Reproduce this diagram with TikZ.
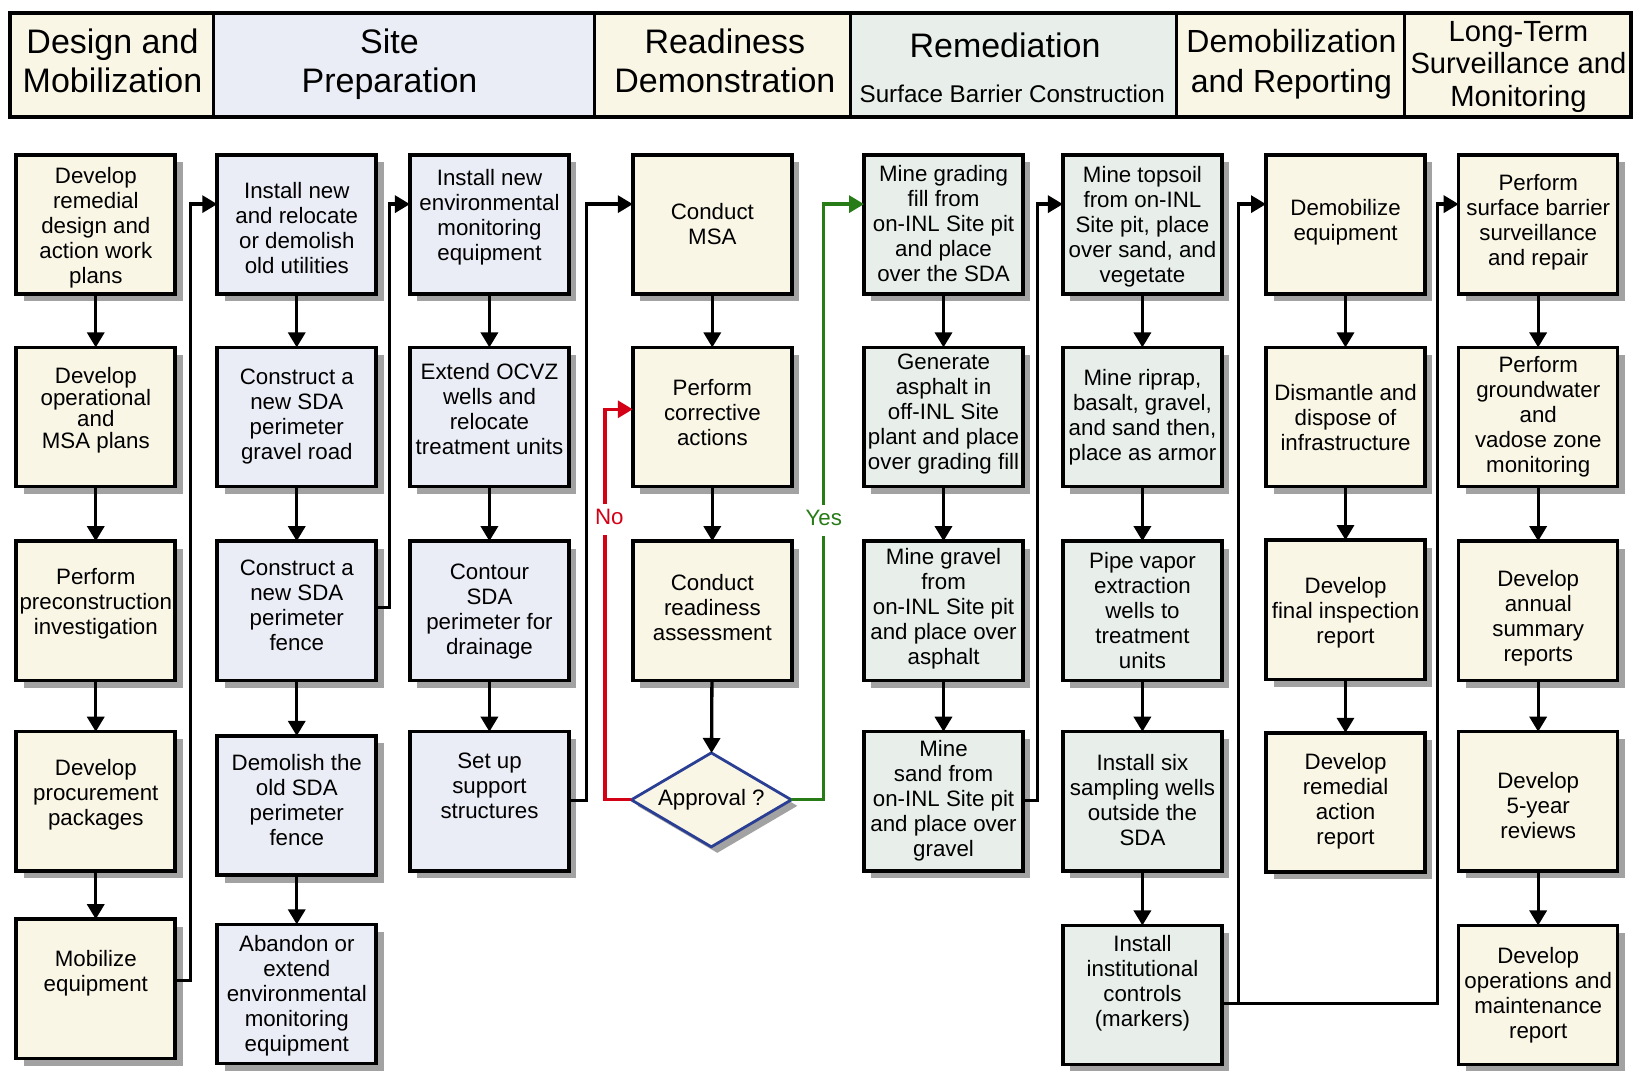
\documentclass[tikz,border=0pt]{standalone}
\usepackage{fontspec}
\setmainfont{Liberation Sans}
\usetikzlibrary{arrows.meta,shapes.geometric,shadows,calc}

\definecolor{cream}{RGB}{249,246,229}
\definecolor{lilac}{RGB}{234,237,246}
\definecolor{sage}{RGB}{232,238,234}
\definecolor{shade}{RGB}{162,162,162}
\definecolor{nored}{RGB}{212,0,22}
\definecolor{yesgreen}{RGB}{40,124,24}
\definecolor{rimblue}{RGB}{42,62,148}

\tikzset{
  stepbox/.style={draw=black, line width=3.5pt, anchor=north west,
    minimum width=159pt, minimum height=139.2pt, inner sep=0pt, outer sep=0pt,
    drop shadow={shadow xshift=7.5pt, shadow yshift=-7.5pt, fill=shade, opacity=1}},
  txt/.style={align=center, inner sep=0pt,
    font=\fontsize{22.3}{25}\selectfont,
    execute at begin node=\strut, execute at end node=\strut},
  hdr/.style={align=center, inner sep=0pt,
    font=\fontsize{34}{39.6}\selectfont,
    execute at begin node=\strut, execute at end node=\strut},
  conn/.style={line width=3.3pt, -{Triangle[width=17pt,length=15pt]}},
  noline/.style={conn, draw=nored, -{Triangle[width=17pt,length=15pt,fill=nored]}},
  yesline/.style={conn, draw=yesgreen, -{Triangle[width=17pt,length=15pt,fill=yesgreen]}},
}

% box: name, fill, left, top, text centre y, text
\newcommand\procbox[6]{%
  \node[stepbox,fill=#2] (#1) at ({#3+1.6},{#4+1.6}) {};
  \node[txt] (#1-t) at ({#3+78},{#5+4}) {#6};}

\begin{document}
\begin{tikzpicture}[x=1.0415pt,y=-1.0415pt]
\fill[white] (0,0) rectangle (1568,1028);
\useasboundingbox (0,0) rectangle (1568,1028);

% ---------- phase header band ----------
\fill[cream] (10,12) rectangle (205,112);
\fill[lilac] (205,12) rectangle (571,112);
\fill[cream] (571,12) rectangle (817,112);
\fill[sage]  (817,12) rectangle (1130,112);
\fill[cream] (1130,12) rectangle (1566,112);
\draw[line width=3pt] (205,12) -- (205,112) (571,12) -- (571,112)
  (817,12) -- (817,112) (1130,12) -- (1130,112) (1349,12) -- (1349,112);
\draw[line width=4pt] (10,12) rectangle (1566,112);

\node[hdr] (h1) at (108,64) {Design and\\Mobilization};
\node[hdr] (h2) at (374,64) {Site\\Preparation};
\node[hdr] (h3) at (696,64) {Readiness\\Demonstration};
\node[hdr] (h4) at (965,48) {Remediation};
\node[hdr, font=\fontsize{24.2}{28}\selectfont] (h4s) at (972,93) {Surface Barrier Construction};
\node[hdr, font=\fontsize{32}{39.6}\selectfont] (h5) at (1240,64) {Demobilization\\and Reporting};
\node[hdr, font=\fontsize{29.2}{32.3}\selectfont] (h6) at (1458,66) {Long-Term\\Surveillance and\\Monitoring};

% ---------- design and mobilization ----------
\procbox{a1}{cream}{14}{147}{216}{Develop\\remedial\\design and\\action work\\plans}
\node[stepbox,fill=cream] (a2) at (15.6,333.6) {};
\node[txt, font=\fontsize{22.3}{21.5}\selectfont] (a2-t) at (92,395) {Develop\\operational\\and\\MSA plans};
\procbox{a3}{cream}{14}{518}{577}{Perform\\preconstruction\\investigation}
\procbox{a4}{cream}{14}{701}{760}{Develop\\procurement\\packages}
\procbox{a5}{cream}{14}{881}{932}{Mobilize\\equipment}

% ---------- site preparation ----------
\procbox{b1}{lilac}{207}{147}{218}{Install new\\and relocate\\or demolish\\old utilities}
\procbox{b2}{lilac}{207}{332}{397}{Construct a\\new SDA\\perimeter\\gravel road}
\procbox{b3}{lilac}{207}{518}{581}{Construct a\\new SDA\\perimeter\\fence}
\procbox{b4}{lilac}{207}{705}{768}{Demolish the\\old SDA\\perimeter\\fence}
\procbox{b5}{lilac}{207}{886}{953}{Abandon or\\extend\\environmental\\monitoring\\equipment}

\procbox{c1}{lilac}{392}{147}{206}{Install new\\environmental\\monitoring\\equipment}
\procbox{c2}{lilac}{392}{332}{392}{Extend OCVZ\\wells and\\relocate\\treatment units}
\procbox{c3}{lilac}{392}{518}{585}{Contour\\SDA\\perimeter for\\drainage}
\procbox{c4}{lilac}{392}{701}{754}{Set up\\support\\structures}

% ---------- readiness demonstration ----------
\procbox{d1}{cream}{606}{147}{215}{Conduct\\MSA}
\procbox{d2}{cream}{606}{332}{396}{Perform\\corrective\\actions}
\procbox{d3}{cream}{606}{518}{583}{Conduct\\readiness\\assessment}
\node[diamond, draw=rimblue, line width=2.8pt, fill=cream, inner sep=0pt, outer sep=0pt,
  minimum width=160pt, minimum height=94pt,
  drop shadow={shadow xshift=6pt, shadow yshift=-6pt, fill=shade, opacity=1}] (dia) at (683,768) {};
\node[txt] (dia-t) at (683,769) {Approval ?};

% ---------- remediation ----------
\procbox{e1}{sage}{828}{147}{214}{Mine grading\\fill from\\on-INL Site pit\\and place\\over the SDA}
\procbox{e2}{sage}{828}{332}{395}{Generate\\asphalt in\\off-INL Site\\plant and place\\over grading fill}
\procbox{e3}{sage}{828}{518}{582}{Mine gravel\\from\\on-INL Site pit\\and place over\\asphalt}
\procbox{e4}{sage}{828}{701}{766}{Mine\\sand from\\on-INL Site pit\\and place over\\gravel}

\procbox{f1}{sage}{1019}{147}{215}{Mine topsoil\\from on-INL\\Site pit, place\\over sand, and\\vegetate}
\procbox{f2}{sage}{1019}{332}{398}{Mine riprap,\\basalt, gravel,\\and sand then,\\place as armor}
\procbox{f3}{sage}{1019}{518}{586}{Pipe vapor\\extraction\\wells to\\treatment\\units}
\procbox{f4}{sage}{1019}{701}{768}{Install six\\sampling wells\\outside the\\SDA}
\procbox{f5}{sage}{1019}{887}{941}{Install\\institutional\\controls\\(markers)}

% ---------- demobilization and reporting ----------
\procbox{g1}{cream}{1214}{147}{211}{Demobilize\\equipment}
\procbox{g2}{cream}{1214}{332}{400}{Dismantle and\\dispose of\\infrastructure}
\procbox{g3}{cream}{1214}{517}{586}{Develop\\final inspection\\report}
\procbox{g4}{cream}{1214}{702}{767}{Develop\\remedial\\action\\report}

% ---------- long-term surveillance and monitoring ----------
\procbox{k1}{cream}{1399}{147}{211}{Perform\\surface barrier\\surveillance\\and repair}
\procbox{k2}{cream}{1399}{332}{398}{Perform\\groundwater\\and\\vadose zone\\monitoring}
\procbox{k3}{cream}{1399}{518}{591}{Develop\\annual\\summary\\reports}
\procbox{k4}{cream}{1399}{701}{773}{Develop\\5-year\\reviews}
\procbox{k5}{cream}{1399}{887}{953}{Develop\\operations and\\maintenance\\report}

% ---------- arrows within a column ----------
\foreach \u/\v in {a1/a2,a2/a3,a3/a4,a4/a5,
                   b1/b2,b2/b3,b3/b4,b4/b5,
                   c1/c2,c2/c3,c3/c4,
                   d1/d2,d2/d3,d3/dia,
                   e1/e2,e2/e3,e3/e4,
                   f1/f2,f2/f3,f3/f4,f4/f5,
                   g1/g2,g2/g3,g3/g4,
                   k1/k2,k2/k3,k3/k4,k4/k5}
  \draw[conn] (\u) -- (\v);

% ---------- links between columns ----------
\coordinate (j1) at (183,196);
\coordinate (j2) at (374,196);
\coordinate (j3) at (563,196);
\coordinate (j4) at (996,196);
\coordinate (j5) at (1189,196);
\coordinate (j6) at (1380,196);
\coordinate (nojog) at (581,393);
\coordinate (yesjog) at (791,196);

\draw[conn] ($(a5.north east)+(0,59)$) -| (j1) -- (b1.west |- j1);
\draw[conn] ($(b3.north east)+(0,64)$) -| (j2) -- (c1.west |- j2);
\draw[conn] ($(c4.north east)+(0,66)$) -| (j3) -- (d1.west |- j3);
\draw[conn] ($(e4.north east)+(0,66)$) -| (j4) -- (f1.west |- j4);
\draw[conn] ($(f5.north east)+(0,75)$) -| (j5) -- (g1.west |- j5);
\draw[conn] ($(f5.north east)+(0,75)$) -| (j6) -- (k1.west |- j6);

\draw[noline] (dia.west) -| (nojog) -- (d2.west |- nojog);
\draw[yesline] (dia.east) -| (yesjog) -- (e1.west |- yesjog);
\node[txt, text=nored, fill=white, inner xsep=2pt, inner ysep=3pt] (nolbl) at (585,499) {No};
\node[txt, text=yesgreen, fill=white, inner xsep=2pt, inner ysep=3pt] (yeslbl) at (791,500) {Yes};

\end{tikzpicture}
\end{document}
